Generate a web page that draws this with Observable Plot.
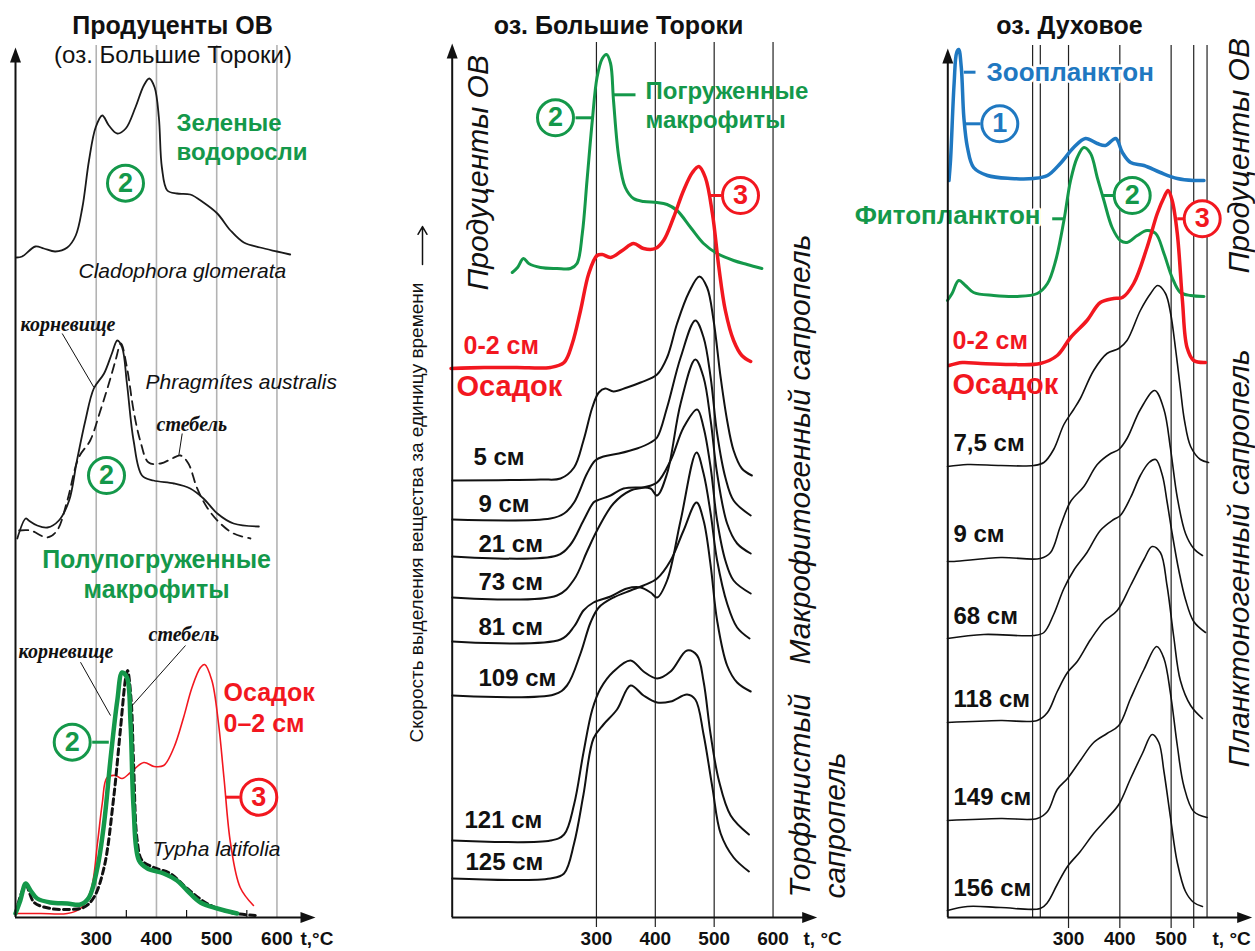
<!DOCTYPE html>
<html lang="ru">
<head>
<meta charset="utf-8">
<title>Термограммы продуцентов ОВ и сапропелей</title>
<script src="https://cdn.jsdelivr.net/npm/d3@7"></script>
<script src="https://cdn.jsdelivr.net/npm/@observablehq/plot@0.6"></script>
<style>
  html, body { margin: 0; padding: 0; background: #fff; }
  #page { position: relative; width: 1255px; height: 951px; overflow: hidden; background: #fff; }
  #page svg { position: absolute; left: 0; top: 0; }
</style>
</head>
<body>
<div id="page"></div>
<script>
// ===================== DATA (t, °C ; intensity, arbitrary units) =====================
// ---- Panel 1: producers of OM (lake Bolshie Toroki)
const cladophora = [[168,660],[177,661],[199,671],[213,669],[232,666],[252,670],[266,682],[277,710],[288,757],[299,790],[310,802],[321,792],[335,784],[349,789],[365,810],[379,832],[388,839],[397,830],[404,800],[409,750],[418,727],[434,724],[456,723],[478,715],[501,704],[523,687],[545,675],[572,670],[600,666],[622,663]];
const phragRhizome = [[169,379],[183,399],[188,397],[202,392],[219,390],[238,397],[255,417],[268,457],[282,497],[296,529],[313,544],[326,564],[335,577],[343,570],[351,534],[362,477],[376,442],[395,437],[429,434],[456,429],[478,419],[501,404],[528,394],[570,391]];
const phragStem = [[172,387],[191,387],[219,380],[235,387],[252,417],[271,460],[290,477],[307,507],[321,534],[332,557],[341,574],[351,550],[362,507],[373,477],[387,455],[407,454],[426,459],[440,462],[453,454],[467,430],[484,410],[506,394],[528,384],[556,379]];
const typhaRhizome = [[166,4],[174,17],[183,34],[191,27],[202,19],[224,15],[252,14],[274,13],[288,20],[302,50],[313,94],[324,160],[335,217],[343,245],[351,240],[357,194],[362,110],[371,57],[385,49],[412,44],[434,37],[451,27],[473,15],[501,9],[534,4]];
const typhaStem = [[166,4],[183,32],[197,15],[224,9],[252,8],[279,10],[296,20],[313,50],[329,120],[340,187],[349,240],[352,247],[358,217],[362,154],[368,77],[376,57],[396,50],[423,44],[451,29],[484,14],[523,5],[564,2]];
const sediment1 = [[169,4],[208,4],[252,4],[274,9],[291,27],[302,74],[310,114],[318,140],[332,142],[343,139],[357,145],[379,155],[396,151],[412,152],[429,170],[445,200],[459,230],[473,250],[480,253],[492,237],[503,194],[512,140],[523,74],[539,30],[561,12]];

// ---- Panel 2: lake Bolshie Toroki
const submerged = [[157,645],[166,650],[176,659],[185,654],[205,650],[233,649],[256,649],[267,654],[276,684],[284,737],[293,797],[301,840],[310,859],[317,863],[324,854],[329,817],[338,760],[349,730],[363,719],[380,716],[403,715],[420,713],[437,707],[460,690],[482,674],[505,664],[533,657],[556,653],[581,649]];
const sediment2 = [[53,549],[109,550],[165,550],[222,550],[245,555],[259,574],[273,607],[287,644],[301,662],[310,663],[324,660],[344,667],[363,674],[380,669],[400,669],[414,677],[431,700],[448,727],[463,745],[474,751],[485,740],[497,704],[508,650],[519,607],[533,577],[547,562],[562,556]];
const bt5 = [[55,437],[205,438],[239,439],[262,450],[278,477],[293,510],[304,525],[315,529],[329,526],[352,530],[375,535],[403,543],[420,560],[437,594],[457,625],[475,641],[488,630],[499,597],[511,540],[522,497],[533,467],[547,449],[564,442]];
const bt9 = [[55,398],[222,399],[245,404],[262,415],[284,444],[298,457],[312,461],[338,464],[369,469],[392,475],[403,480],[420,510],[443,560],[468,597],[482,580],[494,540],[505,484],[519,440],[533,417],[562,402]];
const bt21 = [[55,361],[233,362],[256,373],[278,397],[295,415],[301,417],[324,422],[346,429],[375,430],[392,429],[403,422],[420,444],[443,514],[468,558],[482,540],[494,497],[505,444],[522,394],[539,374],[562,364]];
const bt73 = [[55,320],[233,322],[262,338],[284,366],[301,387],[329,414],[358,427],[380,430],[403,435],[426,457],[448,490],[471,508],[482,490],[494,450],[505,397],[519,357],[533,337],[562,324]];
const bt81 = [[55,276],[239,278],[262,291],[278,307],[295,315],[324,321],[352,329],[375,330],[392,325],[403,320],[420,337],[443,397],[470,465],[482,444],[494,404],[505,357],[522,314],[539,290],[560,279]];
const bt109 = [[55,222],[228,223],[250,232],[273,264],[290,295],[304,310],[329,320],[358,327],[380,332],[403,339],[426,357],[448,387],[470,415],[482,397],[494,352],[505,297],[522,252],[539,235],[562,226]];
const bt121 = [[55,77],[222,77],[245,83],[262,113],[278,165],[293,208],[307,229],[329,246],[358,257],[380,246],[403,239],[426,246],[454,267],[471,262],[482,236],[494,183],[508,137],[528,102],[559,83]];
const bt125 = [[55,39],[222,39],[245,44],[262,74],[278,123],[295,179],[312,193],[335,208],[358,232],[380,222],[403,215],[426,216],[454,223],[468,218],[482,183],[497,130],[511,84],[533,60],[559,46]];

// ---- Panel 3: lake Dukhovoe
const zooplankton = [[67,737],[70,757],[77,834],[82,865],[86,868],[91,850],[96,800],[103,770],[115,750],[142,742],[187,739],[232,739],[259,742],[284,754],[310,770],[333,779],[356,774],[372,772],[392,779],[405,765],[421,755],[447,752],[479,745],[512,739],[544,737],[564,737]];
const phytoplankton = [[64,617],[73,624],[86,637],[99,632],[115,625],[154,622],[200,621],[239,624],[259,634],[275,657],[291,697],[304,737],[317,760],[330,770],[343,764],[356,740],[369,717],[385,690],[401,677],[414,675],[434,682],[453,687],[470,684],[486,664],[502,640],[518,625],[538,622],[564,621]];
const sediment3 = [[67,552],[93,555],[129,554],[187,553],[245,554],[278,562],[304,580],[336,597],[362,615],[388,619],[405,620],[427,634],[453,670],[473,704],[486,720],[494,727],[502,717],[512,684],[522,617],[531,570],[544,557],[567,555]];
const dk7_5 = [[64,451],[103,453],[168,452],[232,452],[252,455],[271,468],[291,493],[310,508],[323,519],[349,547],[375,564],[398,569],[414,577],[440,607],[460,624],[474,632],[489,624],[499,604],[509,567],[518,529],[526,497],[538,471],[557,458],[573,455]];
const dk9 = [[64,356],[77,356],[168,360],[245,359],[265,365],[284,391],[304,416],[330,431],[356,453],[382,464],[398,468],[414,479],[440,508],[468,527],[486,508],[499,468],[512,420],[528,384],[544,369],[561,362]];
const dk68 = [[64,279],[135,283],[232,282],[252,285],[271,303],[291,329],[310,347],[336,365],[362,387],[388,398],[401,402],[421,420],[440,442],[457,455],[470,458],[483,442],[492,416],[502,384],[515,347],[528,318],[544,296],[567,285]];
const dk118 = [[64,195],[168,197],[239,197],[259,205],[278,226],[298,245],[317,256],[343,278],[369,296],[395,307],[421,332],[447,358],[463,371],[479,365],[492,332],[505,281],[518,237],[538,212],[561,199]];
const dk149 = [[64,97],[168,99],[239,99],[259,106],[278,128],[298,139],[323,157],[349,175],[375,184],[398,192],[421,219],[447,248],[472,271],[486,259],[499,223],[512,172],[525,131],[544,106],[570,100]];
const dk156 = [[64,7],[103,11],[168,10],[245,9],[259,15],[278,33],[298,51],[323,66],[349,84],[375,99],[398,113],[421,139],[444,164],[463,183],[476,175],[486,146],[499,99],[512,55],[528,26],[544,15],[561,11]];

// ---- ticks / grid
const ticks1 = [300, 400, 500, 600];
const grid1 = [300, 400, 500, 600];
const minor1 = [350, 450, 550];
const ticks2 = [300, 400, 500, 600];
const grid2 = [300, 400, 500, 600];
const ticks3 = [300, 400, 500];
const grid3 = [230, 245, 300, 400, 500, 544, 570];
const tickBelow3 = [300, 400, 500, 544];

// ---- labels
const depths2 = [["5 см",473,464],["9 см",478,511],["21 см",478,551],["73 см",478,589],["81 см",478,634],["109 см",478,685],["121 см",464,827],["125 см",465,869]];
const depths3 = [["7,5 см",953,450],["9 см",953,541],["68 см",953,623],["118 см",953,706],["149 см",953,804],["156 см",953,895]];

// ===================== RENDERING =====================
const W = 1255, H = 951;
const FONT = "Liberation Sans, Arial, sans-serif";
const SERIF = "Liberation Serif, Times New Roman, serif";
const GREEN = "#14984a", RED = "#f2171f", BLUE = "#1f78c1", INK = "#111";
const Y_TOP = 45, Y_AXIS = 917;
const yDomain = [0, 872];
const ys = Plot.scale({y: {domain: yDomain, range: [Y_AXIS, Y_TOP]}});
const Y = v => ys.invert(v);

const arrowHead = {draw(ctx) { ctx.moveTo(0, -8); ctx.lineTo(5.5, 7); ctx.lineTo(-5.5, 7); ctx.closePath(); }};

function curve(data, o) {
  return Plot.line(data, {x: d => d[0], y: d => d[1], curve: "catmull-rom", strokeLinejoin: "round", strokeLinecap: "round", ...o});
}
function texts(X, items, o) {
  return Plot.text(items, {x: d => X(d[1]), y: d => Y(d[2]), text: d => d[0], textAnchor: "start", lineAnchor: "bottom", fontFamily: FONT, ...o});
}
function leaders(X, items, o) {
  return Plot.link(items, {x1: d => X(d[0]), y1: d => Y(d[1]), x2: d => X(d[2]), y2: d => Y(d[3]), ...o});
}
function badge(X, label, px, py, color) {
  return [
    Plot.dot([0], {x: X(px), y: Y(py), r: 18, stroke: color, fill: "white", strokeWidth: 3}),
    Plot.text([0], {x: X(px), y: Y(py), text: () => label, fill: color, fontSize: 27, fontWeight: "bold", fontFamily: FONT, lineAnchor: "middle"})
  ];
}
function axes(X, p) {
  return [
    Plot.ruleX([p.xDomain[0]], {y1: 0, y2: Y(p.tipY + 6), stroke: INK, strokeWidth: 2}),
    Plot.ruleY([0], {x1: p.xDomain[0], x2: X(p.tipX - 6), stroke: INK, strokeWidth: 2}),
    Plot.dot([0], {x: p.xDomain[0], y: Y(p.tipY + 8), symbol: arrowHead, fill: INK, stroke: "none", r: 5}),
    Plot.dot([0], {x: X(p.tipX - 8), y: 0, symbol: arrowHead, fill: INK, stroke: "none", r: 5, rotate: 90}),
    Plot.axisX({ticks: p.ticks, tickSize: 0, tickPadding: 14, fontSize: 19, fontWeight: "bold", fontFamily: FONT, fill: INK, label: null})
  ];
}
function render(p, marks) {
  const svg = Plot.plot({
    width: W, height: H,
    marginLeft: p.axisX, marginRight: W - p.tipX, marginTop: Y_TOP, marginBottom: H - Y_AXIS,
    x: {domain: p.xDomain, range: [p.axisX, p.tipX]},
    y: {domain: yDomain, range: [Y_AXIS, Y_TOP], axis: null},
    style: {background: "transparent", overflow: "visible", fontFamily: FONT},
    marks
  });
  document.getElementById("page").appendChild(svg);
}

// ---------------- Panel 1 ----------------
{
  const p = {axisX: 15, tipX: 315, tipY: 47, xDomain: [166, 664], ticks: ticks1};
  const xs = Plot.scale({x: {domain: p.xDomain, range: [p.axisX, p.tipX]}});
  const X = v => xs.invert(v);
  render(p, [
    Plot.ruleX(grid1, {y1: 0, y2: Y(45), stroke: "#b3b3b3", strokeWidth: 1.6}),
    Plot.ruleX(minor1, {y1: 0, y2: Y(Y_AXIS - 7), stroke: INK, strokeWidth: 1.2}),
    curve(cladophora, {stroke: "#1a1a1a", strokeWidth: 1.8}),
    curve(phragStem, {stroke: "#1a1a1a", strokeWidth: 1.8, strokeDasharray: "9,6"}),
    curve(phragRhizome, {stroke: "#1a1a1a", strokeWidth: 1.8}),
    curve(sediment1, {stroke: RED, strokeWidth: 1.6}),
    curve(typhaStem, {stroke: "#111", strokeWidth: 3, strokeDasharray: "6,4"}),
    curve(typhaRhizome, {stroke: GREEN, strokeWidth: 4.5}),
    texts(X, [["Продуценты ОВ", 172, 33]], {textAnchor: "middle", fontSize: 25, fontWeight: "bold", fill: INK}),
    texts(X, [["(оз. Большие Тороки)", 172.5, 62]], {textAnchor: "middle", fontSize: 24, fill: INK}),
    texts(X, [["Зеленые", 176, 130], ["водоросли", 176, 159]], {fontSize: 24, fontWeight: "bold", fill: GREEN}),
    texts(X, [["Cladophora glomerata", 78, 277], ["Phragmítes australis", 145, 388], ["Typha latifolia", 152, 855]], {fontSize: 21, fontStyle: "italic", fill: INK}),
    texts(X, [["корневище", 20, 330], ["стебель", 156, 430], ["стебель", 148, 640], ["корневище", 18, 657]], {fontSize: 20, fontStyle: "italic", fontWeight: "bold", fontFamily: SERIF, fill: INK}),
    leaders(X, [[61.7,333,93.3,386.7],[181.7,433,178.3,455],[185,645,131.7,705],[80,661.7,110,715]], {stroke: INK, strokeWidth: 1}),
    texts(X, [["Полупогруженные", 156, 567], ["макрофиты", 156, 597]], {textAnchor: "middle", fontSize: 25, fontWeight: "bold", fill: GREEN}),
    texts(X, [["Осадок", 223, 700], ["0–2 см", 223, 731]], {fontSize: 25, fontWeight: "bold", fill: RED}),
    leaders(X, [[91.7,741.7,108.3,741.7]], {stroke: GREEN, strokeWidth: 3}),
    leaders(X, [[225,796.7,239.3,796.7]], {stroke: RED, strokeWidth: 3}),
    ...badge(X, "2", 125, 182.7, GREEN),
    ...badge(X, "2", 106, 475, GREEN),
    ...badge(X, "2", 71.7, 741.7, GREEN),
    ...badge(X, "3", 258.3, 796.7, RED),
    ...axes(X, p),
    texts(X, [["t,°C", 300, 944]], {fontSize: 19, fontWeight: "bold", fill: INK})
  ]);
}

// ---------------- Panel 2 ----------------
{
  const p = {axisX: 451.7, tipX: 816.7, tipY: 43, xDomain: [55, 675], ticks: ticks2};
  const xs = Plot.scale({x: {domain: p.xDomain, range: [p.axisX, p.tipX]}});
  const X = v => xs.invert(v);
  render(p, [
    Plot.ruleX(grid2, {y1: d => d === 600 ? 0 : Y(927), y2: Y(42), stroke: "#222", strokeWidth: 1.2}),
    curve(submerged, {stroke: GREEN, strokeWidth: 3}),
    curve(bt5, {stroke: INK, strokeWidth: 2}),
    curve(bt9, {stroke: INK, strokeWidth: 2}),
    curve(bt21, {stroke: INK, strokeWidth: 2}),
    curve(bt73, {stroke: INK, strokeWidth: 2}),
    curve(bt81, {stroke: INK, strokeWidth: 2}),
    curve(bt109, {stroke: INK, strokeWidth: 2}),
    curve(bt121, {stroke: INK, strokeWidth: 2}),
    curve(bt125, {stroke: INK, strokeWidth: 2}),
    curve(sediment2, {stroke: RED, strokeWidth: 3.5}),
    texts(X, [["оз. Большие Тороки", 618, 33]], {textAnchor: "middle", fontSize: 25, fontWeight: "bold", fill: INK}),
    texts(X, [["Продуценты ОВ", 487, 290]], {rotate: -90, fontSize: 30, fontStyle: "italic", fill: INK}),
    texts(X, [["Макрофитогенный сапропель", 809, 664], ["Торфянистый", 809, 897], ["сапропель", 844, 898]], {rotate: -90, fontSize: 30, fontStyle: "italic", fill: INK}),
    texts(X, [["Скорость выделения вещества за единицу времени", 422, 742]], {rotate: -90, fontSize: 19, fill: INK}),
    Plot.arrow([0], {x1: X(422), y1: Y(264), x2: X(422), y2: Y(226), stroke: INK, strokeWidth: 1.5, headLength: 9}),
    texts(X, [["Погруженные", 645, 98], ["макрофиты", 645, 127]], {fontSize: 24, fontWeight: "bold", fill: GREEN}),
    leaders(X, [[575,117.3,592.7,117.3],[613.3,94.3,635,94.3]], {stroke: GREEN, strokeWidth: 3}),
    leaders(X, [[708.3,195,720.7,195]], {stroke: RED, strokeWidth: 3}),
    ...badge(X, "2", 555, 117.3, GREEN),
    ...badge(X, "3", 740, 195, RED),
    texts(X, [["0-2 см", 463, 353]], {fontSize: 25, fontWeight: "bold", fill: RED}),
    texts(X, [["Осадок", 456, 395]], {fontSize: 29, fontWeight: "bold", fill: RED}),
    texts(X, depths2, {fontSize: 24, fontWeight: "bold", fill: INK}),
    ...axes(X, p),
    texts(X, [["t, °C", 803, 944]], {fontSize: 19, fontWeight: "bold", fill: INK})
  ]);
}

// ---------------- Panel 3 ----------------
{
  const p = {axisX: 947.3, tipX: 1251.7, tipY: 48, xDomain: [64.7, 658], ticks: ticks3};
  const xs = Plot.scale({x: {domain: p.xDomain, range: [p.axisX, p.tipX]}});
  const X = v => xs.invert(v);
  const halo = {stroke: "white", strokeWidth: 5, paintOrder: "stroke"};
  render(p, [
    Plot.ruleX(grid3, {y1: 0, y2: Y(45), stroke: "#222", strokeWidth: 1.2}),
    Plot.ruleX(tickBelow3, {y1: Y(928), y2: 0, stroke: "#222", strokeWidth: 1.2}),
    curve(dk7_5, {stroke: INK, strokeWidth: 1.6}),
    curve(dk9, {stroke: INK, strokeWidth: 1.6}),
    curve(dk68, {stroke: INK, strokeWidth: 1.6}),
    curve(dk118, {stroke: INK, strokeWidth: 1.6}),
    curve(dk149, {stroke: INK, strokeWidth: 1.6}),
    curve(dk156, {stroke: INK, strokeWidth: 1.6}),
    curve(zooplankton, {stroke: BLUE, strokeWidth: 3.5}),
    curve(phytoplankton, {stroke: GREEN, strokeWidth: 3}),
    curve(sediment3, {stroke: RED, strokeWidth: 3.5}),
    texts(X, [["оз. Духовое", 1069, 33]], {textAnchor: "middle", fontSize: 25, fontWeight: "bold", fill: INK}),
    texts(X, [["Продуценты ОВ", 1248, 273], ["Планктоногенный сапропель", 1248, 767]], {rotate: -90, fontSize: 30, fontStyle: "italic", fill: INK}),
    texts(X, [["Зоопланктон", 986, 80]], {fontSize: 26, fontWeight: "bold", fill: BLUE, ...halo}),
    texts(X, [["Фитопланктон", 1040, 223]], {textAnchor: "end", fontSize: 26, fontWeight: "bold", fill: GREEN, ...halo}),
    leaders(X, [[963.3,71.7,975,71.7],[965,123.3,980,123.3]], {stroke: BLUE, strokeWidth: 3}),
    leaders(X, [[1101.7,195,1113.3,195],[1051.7,218.3,1063.3,218.3]], {stroke: GREEN, strokeWidth: 3}),
    leaders(X, [[1176.7,218.3,1183,218.3]], {stroke: RED, strokeWidth: 3}),
    ...badge(X, "1", 999.3, 123.3, BLUE),
    ...badge(X, "2", 1131.7, 195, GREEN),
    ...badge(X, "3", 1201.7, 218.3, RED),
    texts(X, [["0-2 см", 952, 348]], {fontSize: 25, fontWeight: "bold", fill: RED}),
    texts(X, [["Осадок", 952, 393]], {fontSize: 29, fontWeight: "bold", fill: RED}),
    texts(X, depths3, {fontSize: 24, fontWeight: "bold", fill: INK}),
    ...axes(X, p),
    texts(X, [["t, °C", 1212, 944]], {fontSize: 19, fontWeight: "bold", fill: INK})
  ]);
}
</script>
</body>
</html>
